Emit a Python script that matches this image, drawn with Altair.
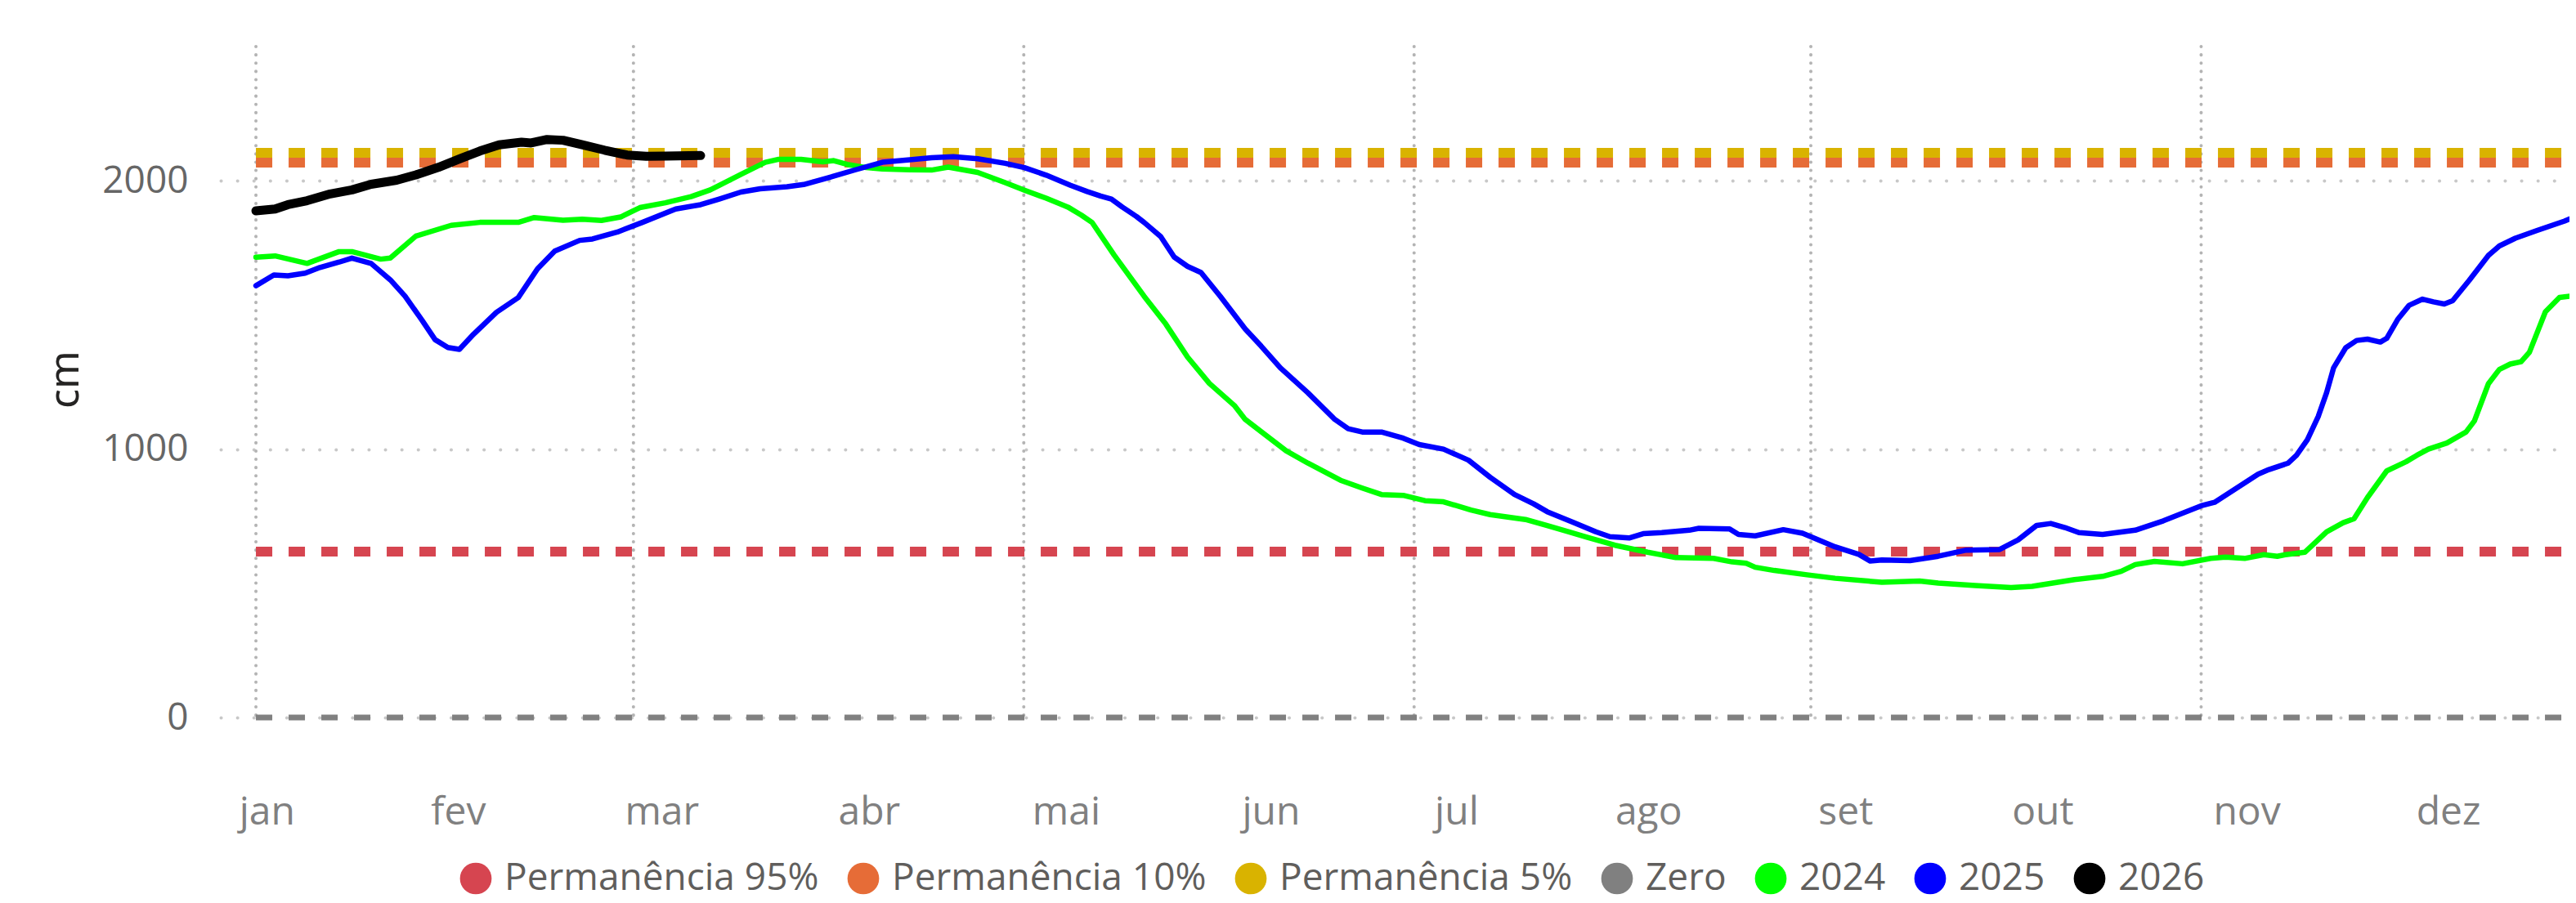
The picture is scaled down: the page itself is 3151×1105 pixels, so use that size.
import altair as alt
import pandas as pd

# ---------------- data (day of year, cm) ----------------
dias_2024 = [0, 3, 8, 13, 15, 19.5, 21, 25, 30.5, 35, 41, 43.5, 48, 51, 54, 57, 60, 64, 68, 71,
             72.4, 75.8, 79.6, 81.7, 85.2, 88.6, 90.3, 92.4, 95.4, 97.9, 102.2, 105.6, 108.2, 112.8,
             117.1, 120.1, 123.5, 126.9, 129, 130.7, 134.1, 138.8, 142.2, 145.6, 149, 152.9, 154.6,
             157.5, 161, 164.4, 169.5, 172.9, 175.9, 179.3, 182.7, 185.6, 189.9, 192.9, 198.4, 201.8,
             205.2, 208, 212.4, 217.5, 221.9, 227.8, 230.7, 232.9, 234.3, 237.3, 242.4, 246.8, 254.1,
             260, 262.9, 268.7, 274.3, 277.6, 284.2, 288.6, 291.5, 293.7, 296.7, 301.1, 305.5, 307.8,
             310.8, 313.8, 315.9, 317.2, 320.2, 323.6, 326.2, 327.9, 330, 333, 336, 337.7, 339.5,
             342.4, 345.4, 346.7, 348.9, 350.6, 352.3, 354, 355.3, 357.8, 360, 361.7, 363.9]
cm_2024 = [1715, 1720, 1692, 1736, 1736, 1708, 1712, 1794, 1834, 1845, 1845, 1863, 1853, 1857, 1852,
           1865, 1900, 1918, 1941, 1966, 1983, 2024, 2069, 2080, 2080, 2071, 2075, 2061, 2049, 2044,
           2041, 2040, 2051, 2031, 1993, 1965, 1935, 1902, 1872, 1844, 1724, 1570, 1466, 1343, 1245,
           1163, 1111, 1058, 994, 948, 884, 855, 831, 828, 808, 804, 773, 756, 738, 715, 692, 672,
           642, 616, 596, 593, 580, 575, 560, 548, 532, 519, 504, 509, 501, 492, 484, 489, 514, 526,
           545, 570, 582, 573, 593, 598, 593, 607, 601, 607, 616, 692, 726, 741, 820, 919, 953, 977,
           1000, 1023, 1064, 1105, 1244, 1297, 1317, 1326, 1361, 1512, 1565, 1570, 1582]

dias_2025 = [0, 2.8, 5, 7.7, 10, 13, 15, 18, 21, 23.3, 26, 28, 30, 31.8, 34, 37.6, 41, 44, 46.7, 50.6,
             52.6, 56.5, 60.4, 65.6, 69.5, 72.4, 75.8, 78.8, 83, 85.6, 89.4, 93.7, 97.9, 102.2, 105.6,
             109, 112.8, 117.1, 120.1, 123.5, 127.3, 129.9, 132, 133.7, 135.4, 137.6, 138.8, 141.4,
             143.5, 145.6, 147.7, 150.7, 154.6, 157.1, 160.1, 164.4, 168.6, 170.7, 172.9, 175.9,
             179.3, 181.8, 185.6, 189.5, 192.9, 196.7, 199.7, 201.8, 205.8, 209.4, 211.6, 214.6,
             216.8, 219.7, 224, 225.5, 230.3, 231.7, 234.3, 238.7, 241.7, 246.8, 250.5, 252.3, 254.1,
             258.5, 262.9, 267.3, 272.5, 275.4, 278.3, 280.5, 282.7, 284.9, 288.6, 293.7, 298.1, 304,
             306.1, 309.5, 312.9, 314.6, 317.6, 318.9, 320.6, 322.3, 323.6, 324.7, 326.6, 328.3, 330,
             332, 333, 334.7, 336.5, 338.6, 340.3, 342, 343.3, 345.9, 348.9, 350.6, 353.1, 356.5,
             360.8, 363.9]
cm_2025 = [1609, 1649, 1646, 1656, 1677, 1697, 1712, 1692, 1631, 1570, 1479, 1408, 1379, 1372, 1428,
           1510, 1565, 1672, 1738, 1778, 1783, 1809, 1845, 1895, 1911, 1932, 1958, 1970, 1978, 1986,
           2011, 2041, 2069, 2078, 2086, 2090, 2082, 2065, 2049, 2021, 1983, 1960, 1943, 1932, 1902,
           1867, 1845, 1792, 1716, 1681, 1658, 1570, 1448, 1384, 1303, 1210, 1111, 1076, 1064, 1064,
           1041, 1017, 1000, 959, 895, 831, 796, 767, 728, 692, 674, 669, 685, 689, 698, 705, 703,
           682, 677, 700, 687, 636, 608, 583, 587, 585, 601, 624, 626, 662, 716, 723, 708, 689, 682,
           698, 733, 789, 802, 854, 907, 924, 948, 977, 1035, 1122, 1210, 1303, 1378, 1405, 1410,
           1399, 1413, 1483, 1536, 1559, 1549, 1541, 1553, 1629, 1722, 1757, 1786, 1815, 1850, 1881]

dias_2026 = [0, 3, 5, 8, 11.6, 15, 18, 22, 25, 28.5, 32, 35, 38, 41.5, 43, 45.5, 48, 51, 54.5, 58,
             61, 64, 69.5]
cm_2026 = [1888, 1895, 1911, 1926, 1951, 1966, 1987, 2002, 2022, 2050, 2083, 2111, 2134, 2144, 2141,
           2154, 2151, 2134, 2114, 2096, 2091, 2092, 2094]

ref_nomes = ["Permanência 95%", "Permanência 10%", "Permanência 5%", "Zero"]
ref_valores = [618, 2068, 2104, 0]

series_nomes = ["2024", "2025", "2026"]
cores = ["#D64550", "#E66C37", "#D9B300", "#808080", "#00FF00", "#0000FF", "#000000"]

meses = ["jan", "fev", "mar", "abr", "mai", "jun", "jul", "ago", "set", "out", "nov", "dez"]
dias_rotulos = [1.7, 31.6, 63.4, 95.8, 126.6, 158.6, 187.6, 217.6, 248.4, 279.2, 311.1, 342.6]
dias_grade = [0, 59, 120, 181, 243, 304]
dia_ref_inicio, dia_ref_fim = 0, 365
dominio_dias = [-5.5, 361.56]

# ---------------- helpers ----------------
BASE = pd.Timestamp("2025-01-01", tz="UTC")


def ms(d):
    return int((BASE + pd.to_timedelta(d, unit="D")).value // 10**6)


W, H = 2873, 826

linhas = []
for nome, ds, vs in [("2024", dias_2024, cm_2024), ("2025", dias_2025, cm_2025), ("2026", dias_2026, cm_2026)]:
    for d, v in zip(ds, vs):
        linhas.append({"t": ms(d), "cm": v, "serie": nome})
df_linhas = pd.DataFrame(linhas)

df_ref = pd.DataFrame({"t": [ms(dia_ref_inicio)] * 4, "t2": [ms(dia_ref_fim)] * 4,
                       "cm": ref_valores, "serie": ref_nomes})
df_grade = pd.DataFrame({"t": [ms(d) for d in dias_grade]})
todos = ref_nomes + series_nomes
df_leg = pd.DataFrame({"t": [ms(0)] * len(todos), "cm": [0] * len(todos), "serie": todos})

label_expr = "[" + ",".join("'%s'" % m for m in meses) + "][utcmonth(datum.value)]"

x_axis = alt.Axis(values=[ms(d) for d in dias_rotulos], labelExpr=label_expr, grid=False,
                  domain=False, ticks=False, title=None, labelFont="Open Sans", labelFontSize=48,
                  labelColor="#808080", labelPadding=125, labelBaseline="alphabetic",
                  labelFlush=False, labelOverlap=False)
x_scale = alt.Scale(type="utc", domain=[ms(dominio_dias[0]), ms(dominio_dias[1])], nice=False)

y_axis = alt.Axis(values=[0, 1000, 2000], format="d", title="cm", grid=True, gridDash=[0.1, 20],
                  gridCap="round", gridWidth=4, gridColor="#c8c8c8", domain=False, ticks=False,
                  labelFont="Open Sans", labelFontSize=46, labelColor="#666666", labelPadding=40,
                  titleFont="Noto Sans", titleFontSize=50, titleColor="#252423", titleFontWeight="normal",
                  titleAngle=270, titleX=-190, titleY=407, titleAlign="center", titleBaseline="middle")
y_scale = alt.Scale(domain=[-15, 2500], nice=False, zero=False)

legenda = alt.Legend(title=None, orient="none", legendX=289, legendY=995, direction="horizontal",
                     symbolType="circle", symbolSize=1500, symbolOpacity=1, symbolStrokeWidth=0,
                     labelFont="Open Sans", labelFontSize=46,
                     labelColor="#605E5C", labelOffset=12, columnPadding=31, labelLimit=1000)
cor = alt.Color("serie:N", scale=alt.Scale(domain=todos, range=cores), legend=legenda)

X = alt.X("t:T", scale=x_scale, axis=x_axis)
Y = alt.Y("cm:Q", scale=y_scale, axis=y_axis)

# invisible filled points: only provide the filled-circle legend symbols
leg_layer = alt.Chart(df_leg).mark_point(filled=True, opacity=0, shape="circle").encode(
    x=X, y=Y, color=cor)

grade = alt.Chart(df_grade).mark_rule(color="#b4b4b4", strokeWidth=4, strokeDash=[0.1, 10],
                                      strokeCap="round").encode(
    x=X, y=alt.value(0), y2=alt.value(H))

zero = alt.Chart(df_ref).transform_filter(alt.datum.serie == "Zero").mark_rule(
    strokeWidth=7, strokeDash=[20, 20]).encode(x=X, x2="t2:T", y=Y, color=cor)

refs = alt.Chart(df_ref).transform_filter(alt.datum.serie != "Zero").mark_rule(
    strokeWidth=12, strokeDash=[20, 20]).encode(x=X, x2="t2:T", y=Y, color=cor)


def linha(nome, largura):
    return alt.Chart(df_linhas).transform_filter(alt.datum.serie == nome).mark_line(
        strokeWidth=largura, strokeCap="round", strokeJoin="round", clip=True).encode(
        x=X, y=Y, color=cor, order="t:T")


chart = alt.layer(leg_layer, grade, zero, refs, linha("2024", 6.5), linha("2025", 6.5),
                  linha("2026", 11)).properties(
    width=W, height=H,
    autosize=alt.AutoSizeParams(type="none"),
    padding={"left": 262, "top": 49, "right": 0, "bottom": 222},
    background="white",
).configure_view(stroke=None)

chart.save("out.html", embed_options={"renderer": "svg", "actions": False})
